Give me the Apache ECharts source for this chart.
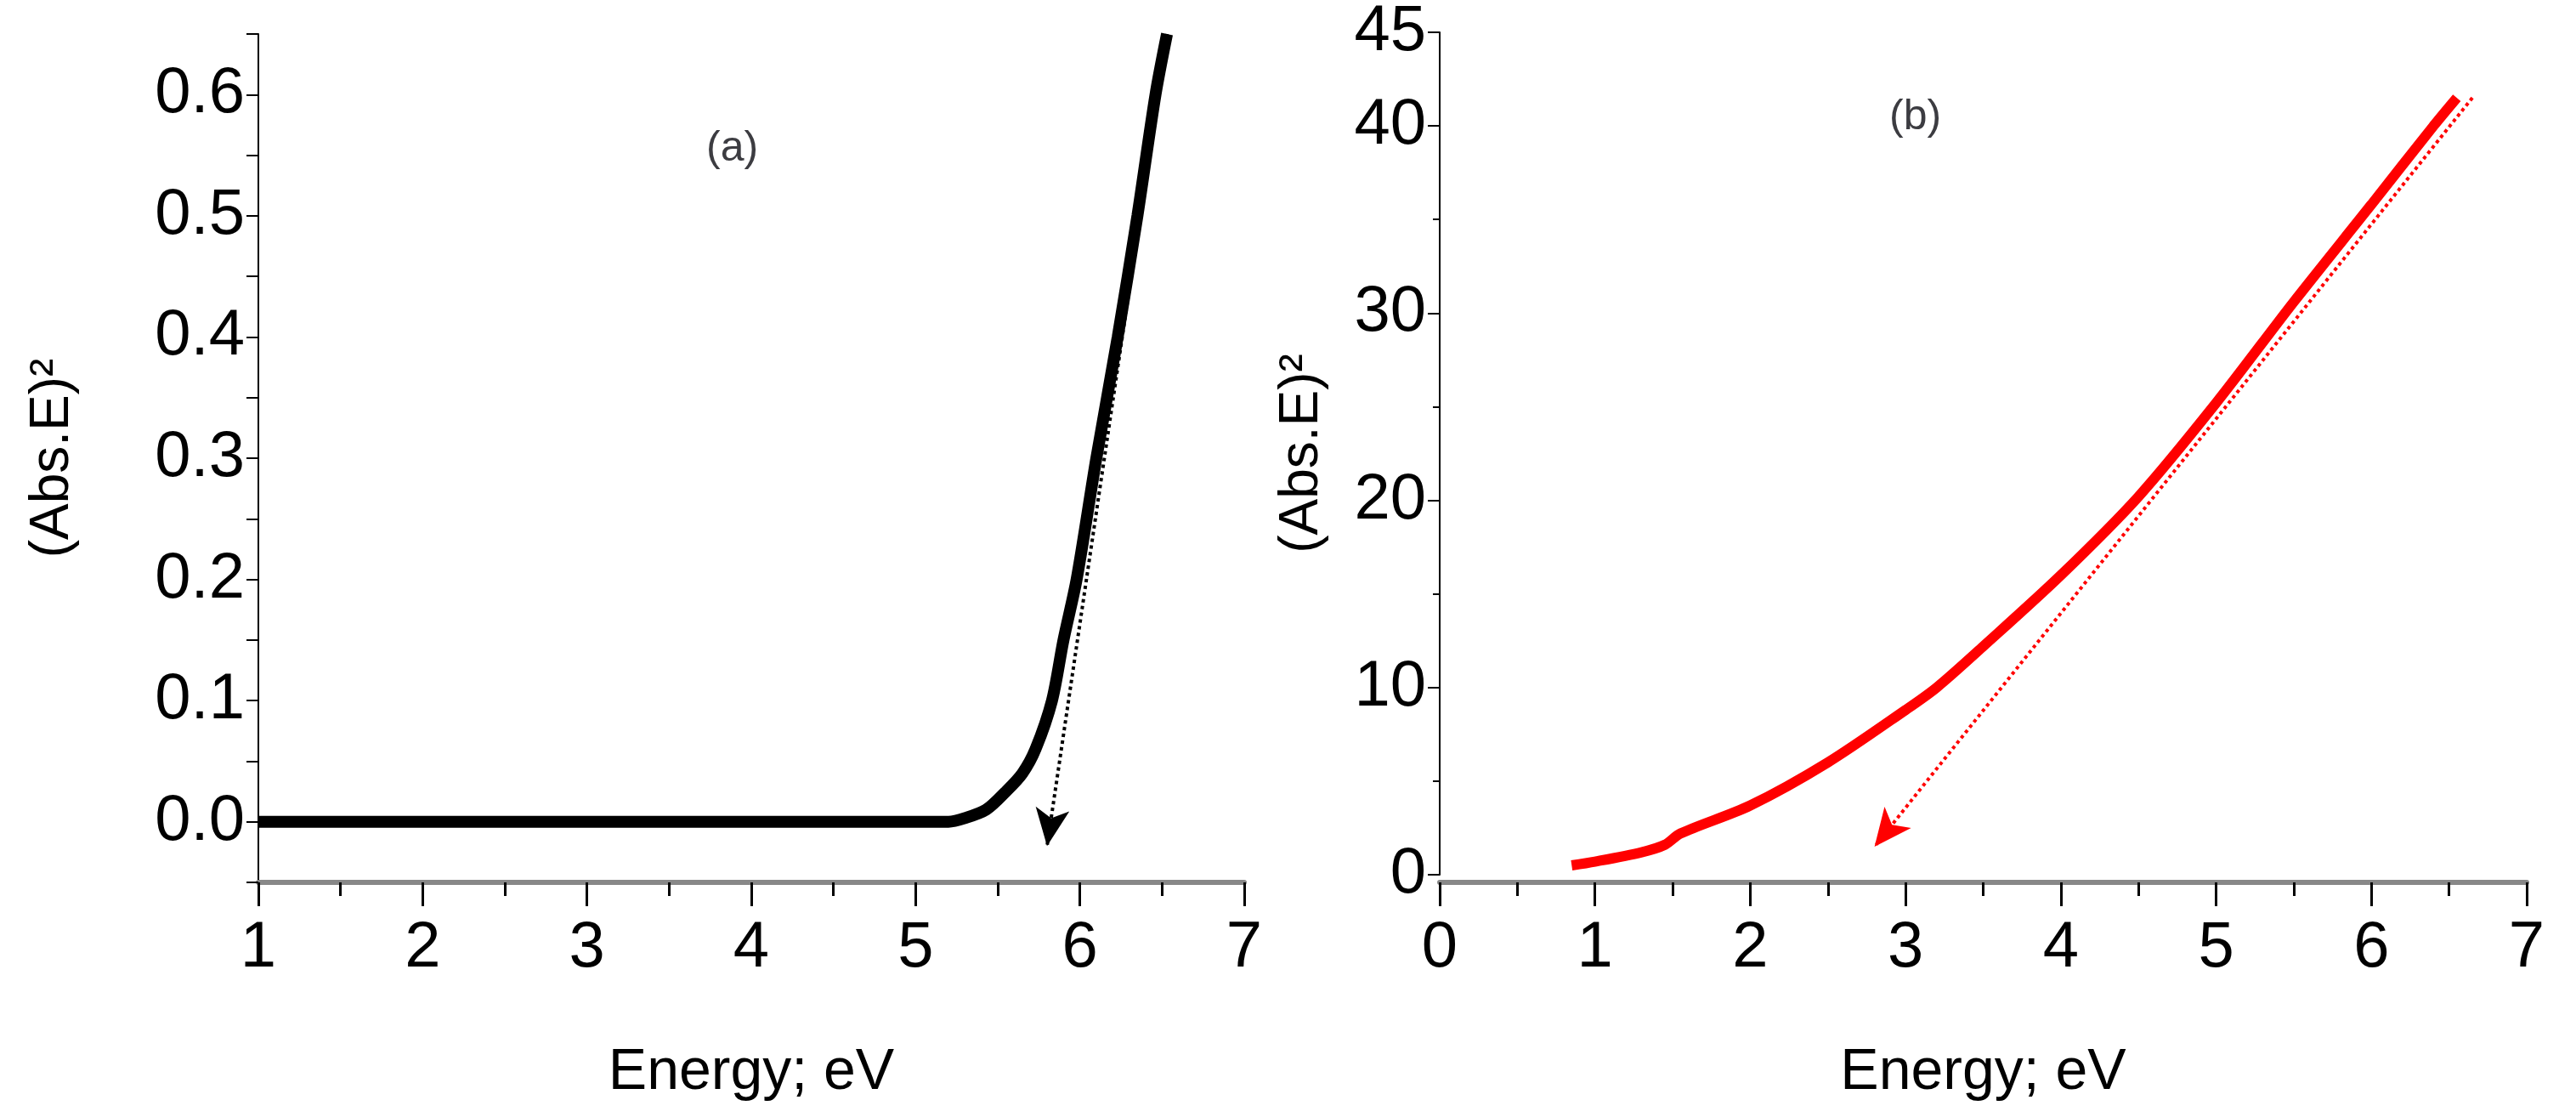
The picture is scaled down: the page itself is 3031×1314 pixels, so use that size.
<!DOCTYPE html>
<html><head><meta charset="utf-8">
<script src="https://cdn.jsdelivr.net/npm/echarts@6/dist/echarts.min.js"></script>
<style>html,body{margin:0;background:#fff}#c{width:3031px;height:1314px}</style>
</head><body><div id="c"></div>
<script>
// panel (a): black curve
var energyA = [1.0, 2.0, 3.0, 4.0, 5.0, 5.2, 5.3, 5.43, 5.55, 5.65, 5.73, 5.83, 5.9, 5.98, 6.1, 6.23, 6.35, 6.46, 6.53];
var absA    = [0, 0, 0, 0, 0, 0, 0.003, 0.01, 0.025, 0.04, 0.06, 0.1, 0.15, 0.2, 0.3, 0.4, 0.5, 0.6, 0.65];
var arrowA  = [[6.53, 0.65], [5.8, -0.02]];
// panel (b): red curve
var energyB = [0.85, 1.0, 1.3, 1.45, 1.55, 2.0, 2.5, 3.0, 3.2, 3.5, 4.0, 4.5, 5.0, 5.5, 6.0, 6.4, 6.55];
var absB    = [0.5, 0.7, 1.2, 1.6, 2.2, 3.7, 6.0, 8.8, 10.0, 12.2, 16.0, 20.2, 25.2, 30.6, 35.8, 40.0, 41.5];
var arrowB  = [[6.65, 41.5], [2.8, 1.5]];

var font = 'Liberation Sans Narrow, Liberation Sans, sans-serif';
function zip(xs, ys){ return xs.map(function(x, i){ return [x, ys[i]]; }); }

function xAxis(gi, min, offset){
    return {
        gridIndex: gi, type: 'value', min: min, max: 7, interval: 1, offset: offset,
        name: 'Energy; eV', nameLocation: 'middle', nameGap: 190,
        nameTextStyle: {fontFamily: font, fontSize: 68, color: '#000'},
        axisLine: {onZero: false, lineStyle: {color: '#888', width: 6}},
        axisTick: {inside: false, length: 28, lineStyle: {color: '#000', width: 3}},
        minorTick: {show: true, splitNumber: 2, length: 16, lineStyle: {color: '#000', width: 3}},
        axisLabel: {fontFamily: font, fontSize: 76, color: '#000', margin: 40},
        splitLine: {show: false}
    };
}
function yAxis(gi, min, max, interval, gap, fmt, minor){
    return {
        gridIndex: gi, type: 'value', min: min, max: max, interval: interval,
        name: '(Abs.E)²', nameLocation: 'middle', nameGap: gap,
        nameTextStyle: {fontFamily: 'Liberation Sans, sans-serif', fontSize: 64, color: '#000'},
        axisLine: {show: true, onZero: false, lineStyle: {color: '#000', width: 2}},
        axisTick: {length: 14, lineStyle: {color: '#000', width: 2}},
        minorTick: {show: minor, splitNumber: 2, length: 8, lineStyle: {color: '#000', width: 2}},
        axisLabel: {fontFamily: font, fontSize: 76, color: '#000', margin: 16, formatter: fmt},
        splitLine: {show: false}
    };
}
function arrow(pts, color){
    return {
        silent: true, symbol: ['none', 'arrow'], symbolSize: [30, 44], label: {show: false},
        lineStyle: {type: 'dotted', color: color, width: 4},
        data: [[{coord: pts[0]}, {coord: pts[1]}]]
    };
}

var chart = echarts.init(document.getElementById('c'));
chart.setOption({
    backgroundColor: '#fff',
    animation: false,
    grid: [
        {left: 304, right: 1567, top: 40, bottom: 276},
        {left: 1694, right: 58, top: 38, bottom: 285}
    ],
    title: [
        {text: '(a)', left: 826, top: 145, textStyle: {fontFamily: font, fontSize: 50, fontWeight: 'normal'}},
        {text: '(b)', left: 2218, top: 108, textStyle: {fontFamily: font, fontSize: 50, fontWeight: 'normal'}}
    ],
    xAxis: [xAxis(0, 1, 0), xAxis(1, 0, 9)],
    yAxis: [
        yAxis(0, -0.05, 0.65, 0.05, 210, function(v){
            var k = Math.round(v * 100);
            return (k >= 0 && k % 10 === 0) ? (k / 100).toFixed(1) : '';
        }, false),
        yAxis(1, 0, 45, 10, 130, function(v){ return Math.round(v); }, true)
    ],
    series: [
        {type: 'line', xAxisIndex: 0, yAxisIndex: 0, data: zip(energyA, absA), smooth: 0.3,
         showSymbol: false, lineStyle: {color: '#000', width: 14}, markLine: arrow(arrowA, '#000')},
        {type: 'line', xAxisIndex: 1, yAxisIndex: 1, data: zip(energyB, absB), smooth: 0.3,
         showSymbol: false, lineStyle: {color: '#f00', width: 12}, markLine: arrow(arrowB, '#f00')}
    ]
});
</script></body></html>
